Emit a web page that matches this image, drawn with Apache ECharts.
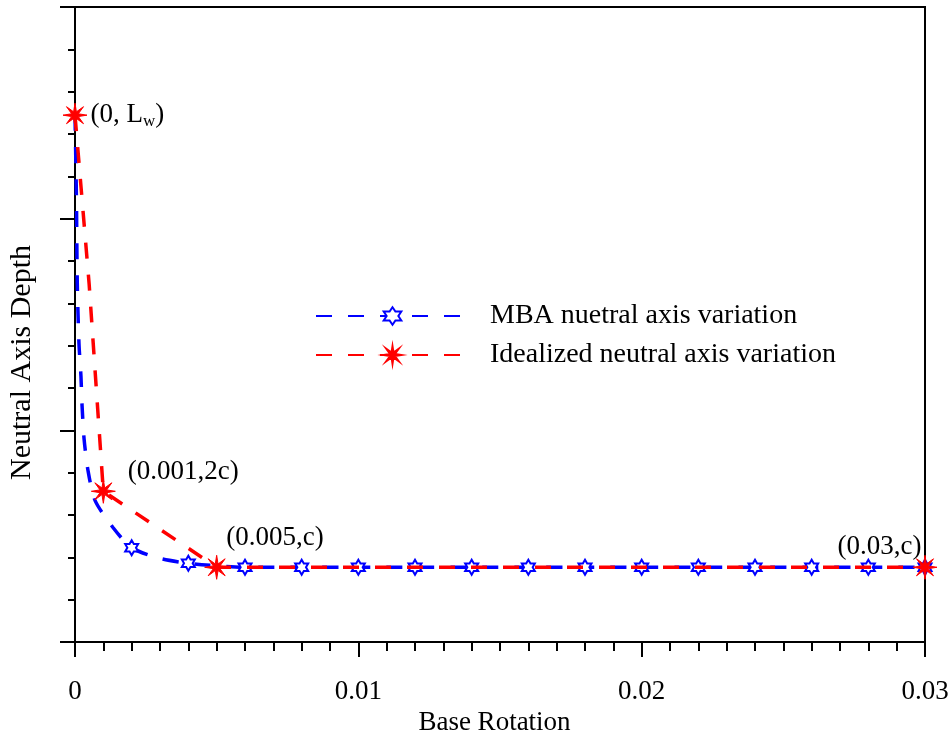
<!DOCTYPE html>
<html><head><meta charset="utf-8">
<script src="https://cdn.jsdelivr.net/npm/echarts@6/dist/echarts.min.js"></script>
<style>html,body{margin:0;padding:0;background:#fff}#c{width:952px;height:734px}</style>
</head><body><div id="c"></div>
<script>
// ---- data ----
const xTickLabels = ['0', '0.01', '0.02', '0.03'];
const seriesNames = ['MBA nuetral axis variation', 'Idealized neutral axis variation'];
const axisNames = ['Base Rotation', 'Neutral Axis Depth'];

const mbaX = [0, 0.00005, 0.00008, 0.00014, 0.00021, 0.00025, 0.00032, 0.00046, 0.00071, 0.00134,
              0.002, 0.003, 0.004, 0.005, 0.006, 0.008, 0.010, 0.012, 0.014, 0.016, 0.018,
              0.020, 0.022, 0.024, 0.026, 0.028, 0.030];
const mbaY = [2.489, 2.10, 1.70, 1.41, 1.256, 1.115, 0.96, 0.809, 0.668, 0.541,
              0.445, 0.395, 0.372, 0.360, 0.353, 0.353, 0.353, 0.353, 0.353, 0.353, 0.353,
              0.353, 0.353, 0.353, 0.353, 0.353, 0.353];
const mbaMarkedX = [0.002, 0.004, 0.006, 0.008, 0.010, 0.012, 0.014, 0.016, 0.018,
                    0.020, 0.022, 0.024, 0.026, 0.028, 0.030];

const idealX = [0, 0.0005, 0.001, 0.005, 0.03];
const idealY = [2.489, 1.69, 0.712, 0.353, 0.353];
const idealMarkedX = [0, 0.001, 0.005, 0.03];
const idealLabels = ['(0, L{w|w})', '(0.001,2c)', '(0.005,c)', '(0.03,c)'];

// ---- symbols ----
function starPath(n, rOut, rIn) {
  const pts = [];
  for (let i = 0; i < 2 * n; i++) {
    const a = -Math.PI / 2 + i * Math.PI / n;
    const r = i % 2 === 0 ? rOut : rIn;
    pts.push((100 + r * Math.cos(a)).toFixed(2) + ' ' + (100 + r * Math.sin(a)).toFixed(2));
  }
  return 'path://M' + pts.join(' L') + ' Z';
}
const hexagram = starPath(6, 100, 57.7);
const burst = starPath(8, 100, 30);

const FONT = "'Liberation Serif','Times New Roman',serif";
const BLUE = '#0000ff', RED = '#ff0000';
const near = (a, b) => Math.abs(a - b) < 1e-9;

const labelCfg = [
  { position: 'right', offset: [-2, 0] },
  { position: 'right', offset: [7, -19] },
  { position: 'right', offset: [-8, -29] },
  { position: 'left', offset: [14, -20] }
];

const mbaData = mbaX.map((x, i) => {
  const marked = mbaMarkedX.some(m => near(m, x));
  return marked ? { value: [x, mbaY[i]] } : { value: [x, mbaY[i]], symbol: 'none' };
});
const idealData = idealX.map((x, i) => {
  const k = idealMarkedX.findIndex(m => near(m, x));
  if (k < 0) return { value: [x, idealY[i]], symbol: 'none' };
  return {
    value: [x, idealY[i]],
    label: Object.assign({
      show: true, formatter: idealLabels[k], color: '#000', fontFamily: FONT, fontSize: 27,
      rich: { w: { fontSize: 17, fontFamily: FONT, color: '#000', padding: [12, 0, 0, 0] } }
    }, labelCfg[k])
  };
});

const chart = echarts.init(document.getElementById('c'));
chart.setOption({
  animation: false,
  backgroundColor: '#fff',
  grid: { left: 75, right: 27, top: 7, bottom: 92, show: true, borderColor: '#000', borderWidth: 2,
          containLabel: false, outerBoundsMode: 'none' },
  legend: {
    orient: 'vertical', left: 310, top: 297, itemWidth: 153, itemHeight: 22, itemGap: 11,
    textStyle: { fontFamily: FONT, fontSize: 28, color: '#000', padding: [0, 0, 0, 16] },
    data: seriesNames
  },
  xAxis: {
    type: 'value', min: 0, max: 0.03, interval: 0.01,
    name: axisNames[0], nameLocation: 'middle', nameGap: 64,
    nameTextStyle: { fontFamily: FONT, fontSize: 27, color: '#000', padding: [0, 11, 0, 0] },
    axisLine: { show: true, lineStyle: { color: '#000', width: 2 } },
    axisTick: { show: true, length: 15, lineStyle: { color: '#000', width: 2 } },
    minorTick: { show: true, splitNumber: 10, length: 9, lineStyle: { color: '#000', width: 2 } },
    splitLine: { show: false },
    axisLabel: { margin: 36, fontFamily: FONT, fontSize: 27, color: '#000',
      formatter: v => xTickLabels[Math.round(v / 0.01)] }
  },
  yAxis: {
    type: 'value', min: 0, max: 3, interval: 1,
    name: axisNames[1], nameLocation: 'middle', nameGap: 38,
    nameTextStyle: { fontFamily: FONT, fontSize: 30, color: '#000', padding: [0, 76, 0, 0] },
    axisLine: { show: true, lineStyle: { color: '#000', width: 2 } },
    axisTick: { show: true, length: 15, lineStyle: { color: '#000', width: 2 } },
    minorTick: { show: true, splitNumber: 5, length: 7, lineStyle: { color: '#000', width: 2 } },
    splitLine: { show: false },
    axisLabel: { show: false }
  },
  series: [
    {
      name: seriesNames[0], type: 'line', data: mbaData, z: 2,
      smooth: 0.25,
      symbol: hexagram, symbolSize: 15, symbolKeepAspect: true,
      itemStyle: { color: '#fff', borderColor: BLUE, borderWidth: 2 },
      lineStyle: { color: BLUE, width: 3.5, type: [16, 16] }
    },
    {
      name: seriesNames[1], type: 'line', data: idealData, z: 3,
      symbol: burst, symbolSize: 24, symbolKeepAspect: true,
      itemStyle: { color: RED, borderColor: RED, borderWidth: 1 },
      lineStyle: { color: RED, width: 3.5, type: [16, 16] }
    }
  ]
});
</script></body></html>
